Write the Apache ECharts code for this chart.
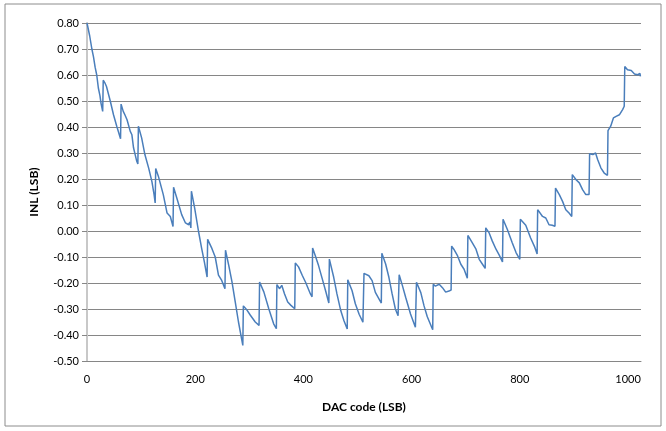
<!DOCTYPE html>
<html>
<head>
<meta charset="utf-8">
<script src="https://cdn.jsdelivr.net/npm/echarts@6/dist/echarts.min.js"></script>
<style>
  html, body { margin: 0; padding: 0; background: #fff; }
  #chart { width: 666px; height: 431px; }
</style>
</head>
<body>
<div id="chart"></div>
<script>
// DAC code (LSB) -> INL (LSB), vertices
const codes = [
  0, 5, 9, 12, 15, 18, 21, 24, 26, 29,
  30, 33, 36, 43, 49, 55, 62,
  63, 67, 70, 74, 80, 83, 86, 89, 92, 94,
  95, 101, 107, 114, 120, 124, 126,
  127, 132, 141, 148, 154, 159,
  160, 166, 175, 182, 188, 190, 192,
  193, 199, 206, 212, 217, 222,
  223, 231, 237, 243, 249, 255,
  256, 262, 268, 274, 280, 288,
  289, 296, 302, 311, 318,
  319, 327, 336, 345, 350,
  351, 356, 360, 365, 371, 377, 384,
  385, 391, 398, 404, 413, 416,
  417, 422, 428, 435, 441, 447,
  448, 456, 462, 469, 475, 481,
  482, 490, 496, 503, 510,
  512, 521, 527, 533, 544,
  545, 552, 558, 564, 570, 575,
  577, 583, 589, 598, 607,
  609, 617, 623, 629, 639,
  640, 644, 651, 657, 663, 669, 673,
  674, 678, 685, 691, 697, 703,
  704, 712, 719, 725, 731, 736,
  737, 743, 749, 756, 762, 768,
  769, 777, 786, 793, 800,
  801, 811, 820, 827, 832,
  833, 842, 848, 854, 860, 865,
  866, 873, 879, 885, 891, 896,
  897, 904, 910, 916, 922, 928,
  929, 935, 940, 944, 950, 956, 962,
  963, 968, 973, 978, 984, 990, 993,
  994, 999, 1006, 1012, 1018, 1022, 1023
];
const inl = [
  0.80, 0.75, 0.70, 0.67, 0.63, 0.60, 0.55, 0.52, 0.49, 0.46,
  0.58, 0.57, 0.556, 0.50, 0.447, 0.403, 0.355,
  0.488, 0.46, 0.447, 0.428, 0.383, 0.37, 0.32, 0.294, 0.268, 0.258,
  0.403, 0.358, 0.294, 0.242, 0.19, 0.14, 0.108,
  0.24, 0.21, 0.14, 0.069, 0.056, 0.017,
  0.168, 0.127, 0.063, 0.031, 0.024, 0.035, 0.012,
  0.153, 0.088, 0.0, -0.068, -0.12, -0.177,
  -0.032, -0.068, -0.10, -0.17, -0.19, -0.222,
  -0.074, -0.132, -0.196, -0.273, -0.35, -0.44,
  -0.288, -0.305, -0.324, -0.35, -0.363,
  -0.196, -0.235, -0.299, -0.357, -0.376,
  -0.206, -0.222, -0.209, -0.241, -0.273, -0.286, -0.299,
  -0.123, -0.138, -0.171, -0.197, -0.242, -0.253,
  -0.065, -0.095, -0.133, -0.185, -0.23, -0.277,
  -0.108, -0.178, -0.242, -0.306, -0.345, -0.377,
  -0.188, -0.23, -0.28, -0.32, -0.351,
  -0.163, -0.172, -0.191, -0.236, -0.277,
  -0.086, -0.127, -0.178, -0.242, -0.30, -0.326,
  -0.168, -0.21, -0.255, -0.319, -0.37,
  -0.197, -0.237, -0.288, -0.33, -0.38,
  -0.205, -0.212, -0.205, -0.218, -0.235, -0.231, -0.227,
  -0.058, -0.07, -0.096, -0.128, -0.147, -0.182,
  -0.017, -0.045, -0.07, -0.109, -0.128, -0.144,
  0.012, -0.006, -0.038, -0.07, -0.093, -0.119,
  0.045, 0.006, -0.045, -0.083, -0.109,
  0.045, 0.022, -0.027, -0.059, -0.088,
  0.082, 0.056, 0.05, 0.024, 0.022, 0.018,
  0.165, 0.14, 0.114, 0.082, 0.069, 0.056,
  0.217, 0.197, 0.185, 0.159, 0.14, 0.14,
  0.297, 0.294, 0.30, 0.274, 0.242, 0.223, 0.214,
  0.386, 0.403, 0.435, 0.441, 0.447, 0.467, 0.48,
  0.633, 0.62, 0.617, 0.604, 0.601, 0.606, 0.595
];

const xTitle = 'DAC code (LSB)';
const yTitle = 'INL (LSB)';

let chart = echarts.init(document.getElementById('chart'), null, { renderer: 'canvas' });
let points = codes.map((c, i) => [c, inl[i]]);
const fontFam = 'Lato, "Open Sans", sans-serif';

chart.setOption({
  animation: false,
  backgroundColor: '#fff',
  graphic: [{
    type: 'rect',
    shape: { x: 5, y: 4, width: 656, height: 422 },
    style: { fill: 'none', stroke: '#8c8c8c', lineWidth: 1 },
    silent: true
  }],
  grid: { left: 87, right: 25, top: 23, bottom: 70 },
  xAxis: {
    type: 'value',
    min: 0,
    max: 1024,
    interval: 200,
    name: xTitle,
    nameLocation: 'middle',
    nameGap: 40,
    nameTextStyle: { fontFamily: fontFam, fontWeight: 'bold', fontSize: 12, color: '#000' },
    axisLine: { show: true, onZero: false, lineStyle: { color: '#868686' } },
    axisTick: { show: false },
    axisLabel: {
      showMaxLabel: false,
      margin: 13,
      fontFamily: fontFam,
      fontSize: 11,
      color: '#000',
      formatter: v => String(v)
    },
    splitLine: { show: false }
  },
  yAxis: {
    type: 'value',
    min: -0.5,
    max: 0.8,
    interval: 0.1,
    name: yTitle,
    nameLocation: 'middle',
    nameGap: 47,
    nameTextStyle: { fontFamily: fontFam, fontWeight: 'bold', fontSize: 12, color: '#000' },
    axisLine: { show: true, lineStyle: { color: '#c8c8c8', width: 2 } },
    axisTick: { show: true, length: 5, lineStyle: { color: '#868686' } },
    axisLabel: {
      margin: 8,
      fontFamily: fontFam,
      fontSize: 11,
      color: '#000',
      formatter: v => v.toFixed(2)
    },
    splitLine: { show: true, lineStyle: { color: '#868686', width: 1 } }
  },
  series: [{
    type: 'line',
    data: points,
    showSymbol: false,
    lineStyle: { color: '#4a7ebb', width: 1.5 },
    itemStyle: { color: '#4a7ebb' }
  }]
});
</script>
</body>
</html>
